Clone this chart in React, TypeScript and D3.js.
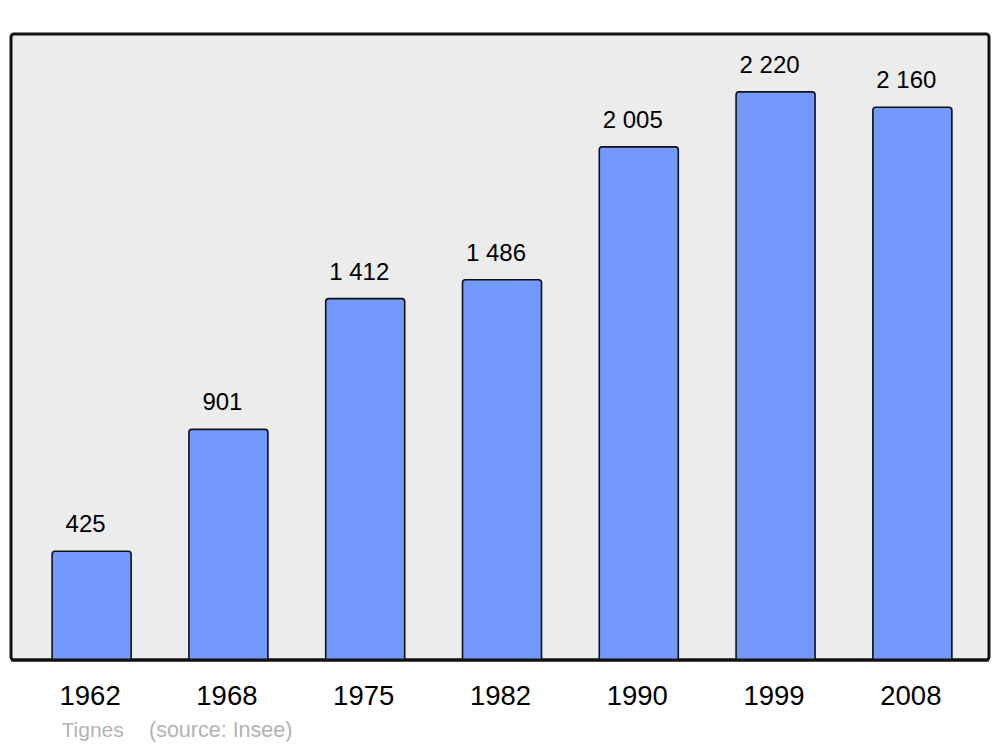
import React from "react";
import * as d3 from "d3";

const years = ["1962", "1968", "1975", "1982", "1990", "1999", "2008"];
const population = [425, 901, 1412, 1486, 2005, 2220, 2160];
const valueLabels = ["425", "901", "1 412", "1 486", "2 005", "2 220", "2 160"];
const caption = "Tignes";
const source = "(source: Insee)";

const W = 1000;
const H = 747;
const panel = { x0: 11, y0: 34, x1: 989, y1: 660 };

export default function App() {
  const x = d3
    .scaleBand<string>()
    .domain(years)
    .range([13, 991])
    .paddingInner(0.4225)
    .paddingOuter(0.286);
  const y = d3.scaleLinear().domain([0, 2446]).range([panel.y1, panel.y0]);

  return (
    <svg
      width={W}
      height={H}
      style={{ position: "absolute", left: 0, top: 0, fontFamily: "'Liberation Sans', Arial, sans-serif" }}
    >
      <rect x={0} y={0} width={W} height={H} fill="#ffffff" />
      <rect
        x={panel.x0}
        y={panel.y0}
        width={panel.x1 - panel.x0}
        height={panel.y1 - panel.y0}
        rx={3}
        fill="#ececec"
        stroke="#111"
        strokeWidth={3}
      />
      {years.map((yr, i) => {
        const bx = x(yr)!;
        const bw = x.bandwidth();
        const top = y(population[i]);
        return (
          <g key={yr}>
            <path
              d={`M${bx},${panel.y1} L${bx},${top + 3} Q${bx},${top} ${bx + 3},${top} L${bx + bw - 3},${top} Q${bx + bw},${top} ${bx + bw},${top + 3} L${bx + bw},${panel.y1}`}
              fill="#7399ff"
              stroke="#111"
              strokeWidth={1.6}
            />
            <text x={bx + bw / 2 - 6} y={top - 19} textAnchor="middle" fontSize={24} fill="#000">
              {valueLabels[i]}
            </text>
            <text x={bx + bw / 2 - 1.5} y={705} textAnchor="middle" fontSize={27.5} fill="#000">
              {yr}
            </text>
          </g>
        );
      })}
      <line x1={panel.x0} x2={panel.x1} y1={panel.y1} y2={panel.y1} stroke="#111" strokeWidth={3} />
      <text x={61.5} y={737} fontSize={21} fill="#b3b3b3">
        {caption}
      </text>
      <text x={149} y={737} fontSize={21.5} fill="#b3b3b3">
        {source}
      </text>
    </svg>
  );
}
